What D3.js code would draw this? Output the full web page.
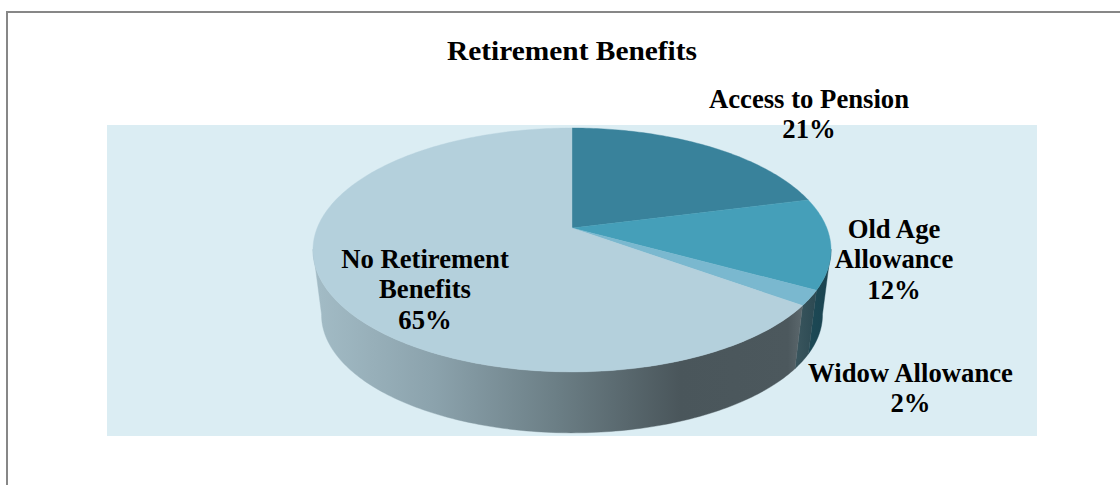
<!DOCTYPE html>
<html>
<head>
<meta charset="utf-8">
<script src="https://cdn.jsdelivr.net/npm/d3@7/dist/d3.min.js"></script>
<style>
  html, body { margin: 0; padding: 0; background: #fff; }
  svg { display: block; }
  text { font-family: "Liberation Serif", serif; font-weight: bold; fill: #000; text-anchor: middle; }
</style>
</head>
<body>
<div id="chart"></div>
<script>
// Share of respondents by retirement benefit
const categories = ["Access to Pension", "Old Age Allowance", "Widow Allowance", "No Retirement Benefits"];
const shares = [21, 12, 2, 65];
const topColors = ["#39829b", "#459fb9", "#7ab8cf", "#b4d0dc"];
const labelLines = [
  ["Access to Pension", "21%"],
  ["Old Age", "Allowance", "12%"],
  ["Widow Allowance", "2%"],
  ["No Retirement", "Benefits", "65%"]
];
const chartTitle = "Retirement Benefits";

const width = 1120, height = 485;
const svg = d3.select("#chart").append("svg").attr("width", width).attr("height", height);
const defs = svg.append("defs");

// Frame: only its top and left edges fall inside the page
svg.append("rect").attr("x", 7).attr("y", 12).attr("width", 1130).attr("height", 490)
  .attr("fill", "#fff").attr("stroke", "#878787").attr("stroke-width", 2);
svg.append("rect").attr("x", 107).attr("y", 125).attr("width", 930).attr("height", 311).attr("fill", "#dbedf3");

// Tilted disc: a perspective projection of the unit circle
const apex = { x: 572, y: 228 }, radiusX = 254.8, radiusY = 118, tilt = 0.18;
const project = angle => {
  const u = Math.sin(angle), v = -Math.cos(angle), w = 1 - tilt * v;
  return [apex.x + radiusX * u / w, apex.y + radiusY * v / w];
};
// The base disc sits lower and slightly further away
const discCentreY = 250, baseCentreY = 315, baseScale = 0.967;
const projectBase = angle => {
  const [x, y] = project(angle);
  return [apex.x + (x - apex.x) * baseScale, baseCentreY + (y - discCentreY) * baseScale];
};

const pie = d3.pie().sort(null)(shares);
const line = d3.line();
const arcPoints = (fn, a0, a1) => {
  const n = Math.max(2, Math.ceil(Math.abs(a1 - a0) * 60));
  return d3.range(n + 1).map(i => fn(a0 + (a1 - a0) * i / n));
};

// Horizontal shading along the visible rim of each slice
const rimStops = [
  [["0", "#2a5a69"], ["1", "#173f4c"]],
  [["0", "#1d4955"], ["1", "#1a4350"]],
  [["0", "#3a565e"], ["0.85", "#2e4b54"], ["1", "#2e4b54"]],
  [["0", "#a3bcc6"], ["0.25", "#8ba2ac"], ["0.5", "#6b7e85"], ["0.75", "#4a565b"], ["0.97", "#4c585d"], ["1", "#5c686d"]]
];
const rimStart = Math.PI * 100 / 180;   // rim turns out of sight past the right edge
const rimEnd = Math.PI * 260 / 180;     // and past the left edge

pie.forEach((d, i) => {
  const a0 = Math.max(d.startAngle, rimStart), a1 = Math.min(d.endAngle, rimEnd);
  if (a1 <= a0) return;
  const front = arcPoints(project, a0, a1), back = arcPoints(projectBase, a1, a0);
  const xs = front.concat(back).map(p => p[0]);
  const grad = defs.append("linearGradient").attr("id", "rim" + i)
    .attr("gradientUnits", "userSpaceOnUse")
    .attr("x1", d3.min(xs)).attr("x2", d3.max(xs)).attr("y1", 0).attr("y2", 0);
  // Stops run left to right on screen
  rimStops[i].forEach(s => grad.append("stop").attr("offset", s[0]).attr("stop-color", s[1]));
  svg.append("path").attr("d", line(front.concat(back)) + "Z").attr("fill", `url(#rim${i})`)
    .attr("stroke", `url(#rim${i})`).attr("stroke-width", 0.4);
});

// Top face slices
pie.forEach((d, i) => {
  const pts = [[apex.x, apex.y]].concat(arcPoints(project, d.startAngle, d.endAngle));
  svg.append("path").attr("d", line(pts) + "Z").attr("fill", topColors[i])
    .attr("stroke", topColors[i]).attr("stroke-width", 0.4);
});

// Title and data labels
svg.append("text").attr("x", 572).attr("y", 60).attr("font-size", 26.5).text(chartTitle)
  .attr("textLength", 250).attr("lengthAdjust", "spacingAndGlyphs");
const labelAnchors = [[809, 107.5], [894, 237.5], [910.5, 381.5], [425, 267.5]];
labelLines.forEach((lines, i) => {
  lines.forEach((t, j) => {
    svg.append("text").attr("x", labelAnchors[i][0]).attr("y", labelAnchors[i][1] + j * 30.5)
      .attr("font-size", 26.7).text(t);
  });
});
</script>
</body>
</html>
